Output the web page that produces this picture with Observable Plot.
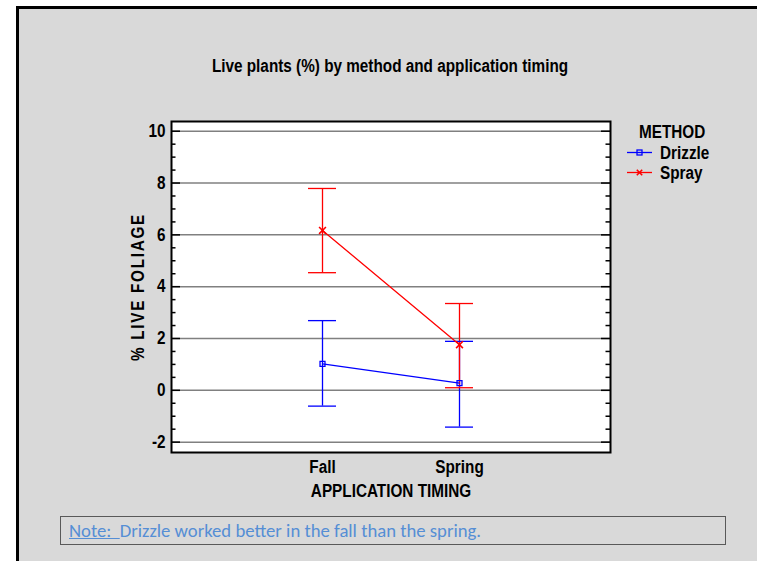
<!DOCTYPE html>
<html><head><meta charset="utf-8">
<script src="https://cdn.jsdelivr.net/npm/d3@7"></script>
<script src="https://cdn.jsdelivr.net/npm/@observablehq/plot@0.6"></script>
<style>
body{margin:0;background:#fff;overflow:hidden;}
#wrap{position:relative;width:758px;height:561px;overflow:hidden;font-family:"Liberation Sans",Arial,sans-serif;color:#000;}
#bg{position:absolute;left:16px;top:6px;width:741px;height:555px;background:#d9d9d9;border-top:3px solid #000;border-left:3px solid #000;box-sizing:border-box;}
#chart{position:absolute;left:0;top:0;}
#title{position:absolute;left:0;width:780px;top:56px;text-align:center;font-weight:bold;font-size:18px;line-height:20px;white-space:nowrap;transform:scaleX(0.85);transform-origin:390px 0;}
.lg{position:absolute;font-weight:bold;font-size:18px;line-height:20px;white-space:nowrap;transform:scaleX(0.85);transform-origin:0 0;}
#note{position:absolute;left:60px;top:516px;width:656px;height:27px;border:1.5px solid #595959;font-family:Carlito,Lato,"Open Sans",sans-serif;font-size:18.7px;line-height:28px;color:#558ed5;padding-left:8px;box-sizing:content-box;white-space:nowrap;}
#note u{text-decoration-thickness:1px;}
#chart g[aria-label="y-axis label"] text{letter-spacing:2px;}
</style>
</head><body>
<div id="wrap">
  <div id="bg"></div>
  <div id="chart"></div>
  <div id="title"></div>
  <div id="legend"></div>
  <div id="note"></div>
</div>
<script>
const chartTitle = "Live plants (%) by method and application timing";
const yLabel = "% LIVE FOLIAGE";
const xLabel = "APPLICATION TIMING";
const legendTitle = "METHOD";
const noteLead = "Note:\u00a0 ";
const noteText = "Drizzle worked better in the fall than the spring.";

const timing = ["Fall", "Spring"];
const methods = ["Drizzle", "Spray"];
const methodColors = ["#0000ff", "#ff0000"];
const drizzleMean = [1.02, 0.28];
const drizzleLower = [-0.61, -1.42];
const drizzleUpper = [2.69, 1.89];
const sprayMean = [6.17, 1.76];
const sprayLower = [4.54, 0.10];
const sprayUpper = [7.79, 3.35];
const yTicks = [-2, 0, 2, 4, 6, 8, 10];
const yMinorTicks = [-1.5, -1, -0.5, 0.5, 1, 1.5, 2.5, 3, 3.5, 4.5, 5, 5.5, 6.5, 7, 7.5, 8.5, 9, 9.5];

const series = {
  Drizzle: {mean: drizzleMean, lower: drizzleLower, upper: drizzleUpper},
  Spray: {mean: sprayMean, lower: sprayLower, upper: sprayUpper}
};
const data = methods.flatMap(m => timing.map((t, i) => ({
  method: m, timing: t, mean: series[m].mean[i], lower: series[m].lower[i], upper: series[m].upper[i]
})));
const drizzle = data.filter(d => d.method === "Drizzle");
const spray = data.filter(d => d.method === "Spray");

const W = 758, H = 561, mL = 171, mR = 148, mT = 121, mB = 109;
const innerW = W - mL - mR;
const squeeze = 0.85;

const plot = Plot.plot({
  width: W, height: H,
  marginLeft: mL, marginRight: mR, marginTop: mT, marginBottom: mB,
  style: {background: "transparent", fontFamily: "'Liberation Sans', Arial, sans-serif", fontSize: "18px", fontWeight: "bold", color: "#000", overflow: "visible"},
  x: {type: "band", domain: timing, paddingInner: 0.797, paddingOuter: 0.993},
  y: {domain: [-2.4, 10.375]},
  color: {domain: methods, range: methodColors},
  marks: [
    Plot.frame({fill: "white"}),
    Plot.ruleY(yTicks, {stroke: "#808080", strokeWidth: 1.5}),
    Plot.tickY(yTicks, {stroke: "#000", strokeWidth: 1.5, insetRight: innerW - 9}),
    Plot.tickY(yTicks, {stroke: "#000", strokeWidth: 1.5, insetLeft: innerW - 9}),
    Plot.tickY(yMinorTicks, {stroke: "#000", strokeWidth: 1.5, insetRight: innerW - 4.5}),
    Plot.tickY(yMinorTicks, {stroke: "#000", strokeWidth: 1.5, insetLeft: innerW - 4.5}),
    Plot.ruleX(data, {x: "timing", y1: "lower", y2: "upper", stroke: "method", strokeWidth: 1.3}),
    Plot.tickY(data, {x: "timing", y: "upper", stroke: "method", strokeWidth: 1.3}),
    Plot.tickY(data, {x: "timing", y: "lower", stroke: "method", strokeWidth: 1.3}),
    Plot.line(data, {x: "timing", y: "mean", z: "method", stroke: "method", strokeWidth: 1.3}),
    Plot.dot(drizzle, {x: "timing", y: "mean", symbol: "square", r: 2.8, stroke: "method", fill: "none", strokeWidth: 1.3}),
    Plot.dot(spray, {x: "timing", y: "mean", symbol: "times", r: 3.2, stroke: "method", strokeWidth: 1.6}),
    Plot.frame({stroke: "#000", strokeWidth: 2}),
    Plot.axisY({ticks: yTicks, tickFormat: d => String(d), tickSize: 0, tickPadding: 6, label: yLabel, labelAnchor: "center", labelOffset: 40, labelArrow: "none"}),
    Plot.axisX({tickSize: 0, tickPadding: 8, label: xLabel, labelAnchor: "center", labelOffset: 44, labelArrow: "none"})
  ]
});
document.getElementById("chart").appendChild(plot);
// condense axis text horizontally (the reference uses a narrow bold face)
plot.querySelectorAll('g[aria-label^="x-axis"] text, g[aria-label^="y-axis"] text').forEach(t => {
  const len = t.getComputedTextLength();
  if (len > 0) {
    t.setAttribute("textLength", (len * squeeze).toFixed(2));
    t.setAttribute("lengthAdjust", "spacingAndGlyphs");
  }
});

document.getElementById("title").textContent = chartTitle;

const leg = document.getElementById("legend");
const lt = document.createElement("div");
lt.className = "lg"; lt.style.left = "639px"; lt.style.top = "122px"; lt.textContent = legendTitle;
leg.appendChild(lt);
const rowTops = [142.5, 163];
methods.forEach((m, i) => {
  const d = document.createElement("div");
  d.className = "lg"; d.style.left = "660px"; d.style.top = rowTops[i] + "px"; d.textContent = m;
  leg.appendChild(d);
});
const ns = "http://www.w3.org/2000/svg";
const sv = document.createElementNS(ns, "svg");
sv.setAttribute("width", 40); sv.setAttribute("height", 40);
sv.style.position = "absolute"; sv.style.left = "620px"; sv.style.top = "140px";
const lineYs = [12.5, 32.5];
methods.forEach((m, i) => {
  const y = lineYs[i];
  const l = document.createElementNS(ns, "line");
  l.setAttribute("x1", 7); l.setAttribute("x2", 32); l.setAttribute("y1", y); l.setAttribute("y2", y);
  l.setAttribute("stroke", methodColors[i]); l.setAttribute("stroke-width", 1.3);
  sv.appendChild(l);
  if (m === "Drizzle") {
    const r = document.createElementNS(ns, "rect");
    r.setAttribute("x", 17); r.setAttribute("y", y - 2.5); r.setAttribute("width", 5); r.setAttribute("height", 5);
    r.setAttribute("fill", "none"); r.setAttribute("stroke", methodColors[i]); r.setAttribute("stroke-width", 1.3);
    sv.appendChild(r);
  } else {
    const p = document.createElementNS(ns, "path");
    p.setAttribute("d", `M16.8,${y-2.7}L22.2,${y+2.7}M16.8,${y+2.7}L22.2,${y-2.7}`);
    p.setAttribute("stroke", methodColors[i]); p.setAttribute("stroke-width", 1.6);
    sv.appendChild(p);
  }
});
leg.appendChild(sv);

const note = document.getElementById("note");
const u = document.createElement("u"); u.textContent = noteLead;
note.appendChild(u);
note.appendChild(document.createTextNode(noteText));
</script>
</body></html>
